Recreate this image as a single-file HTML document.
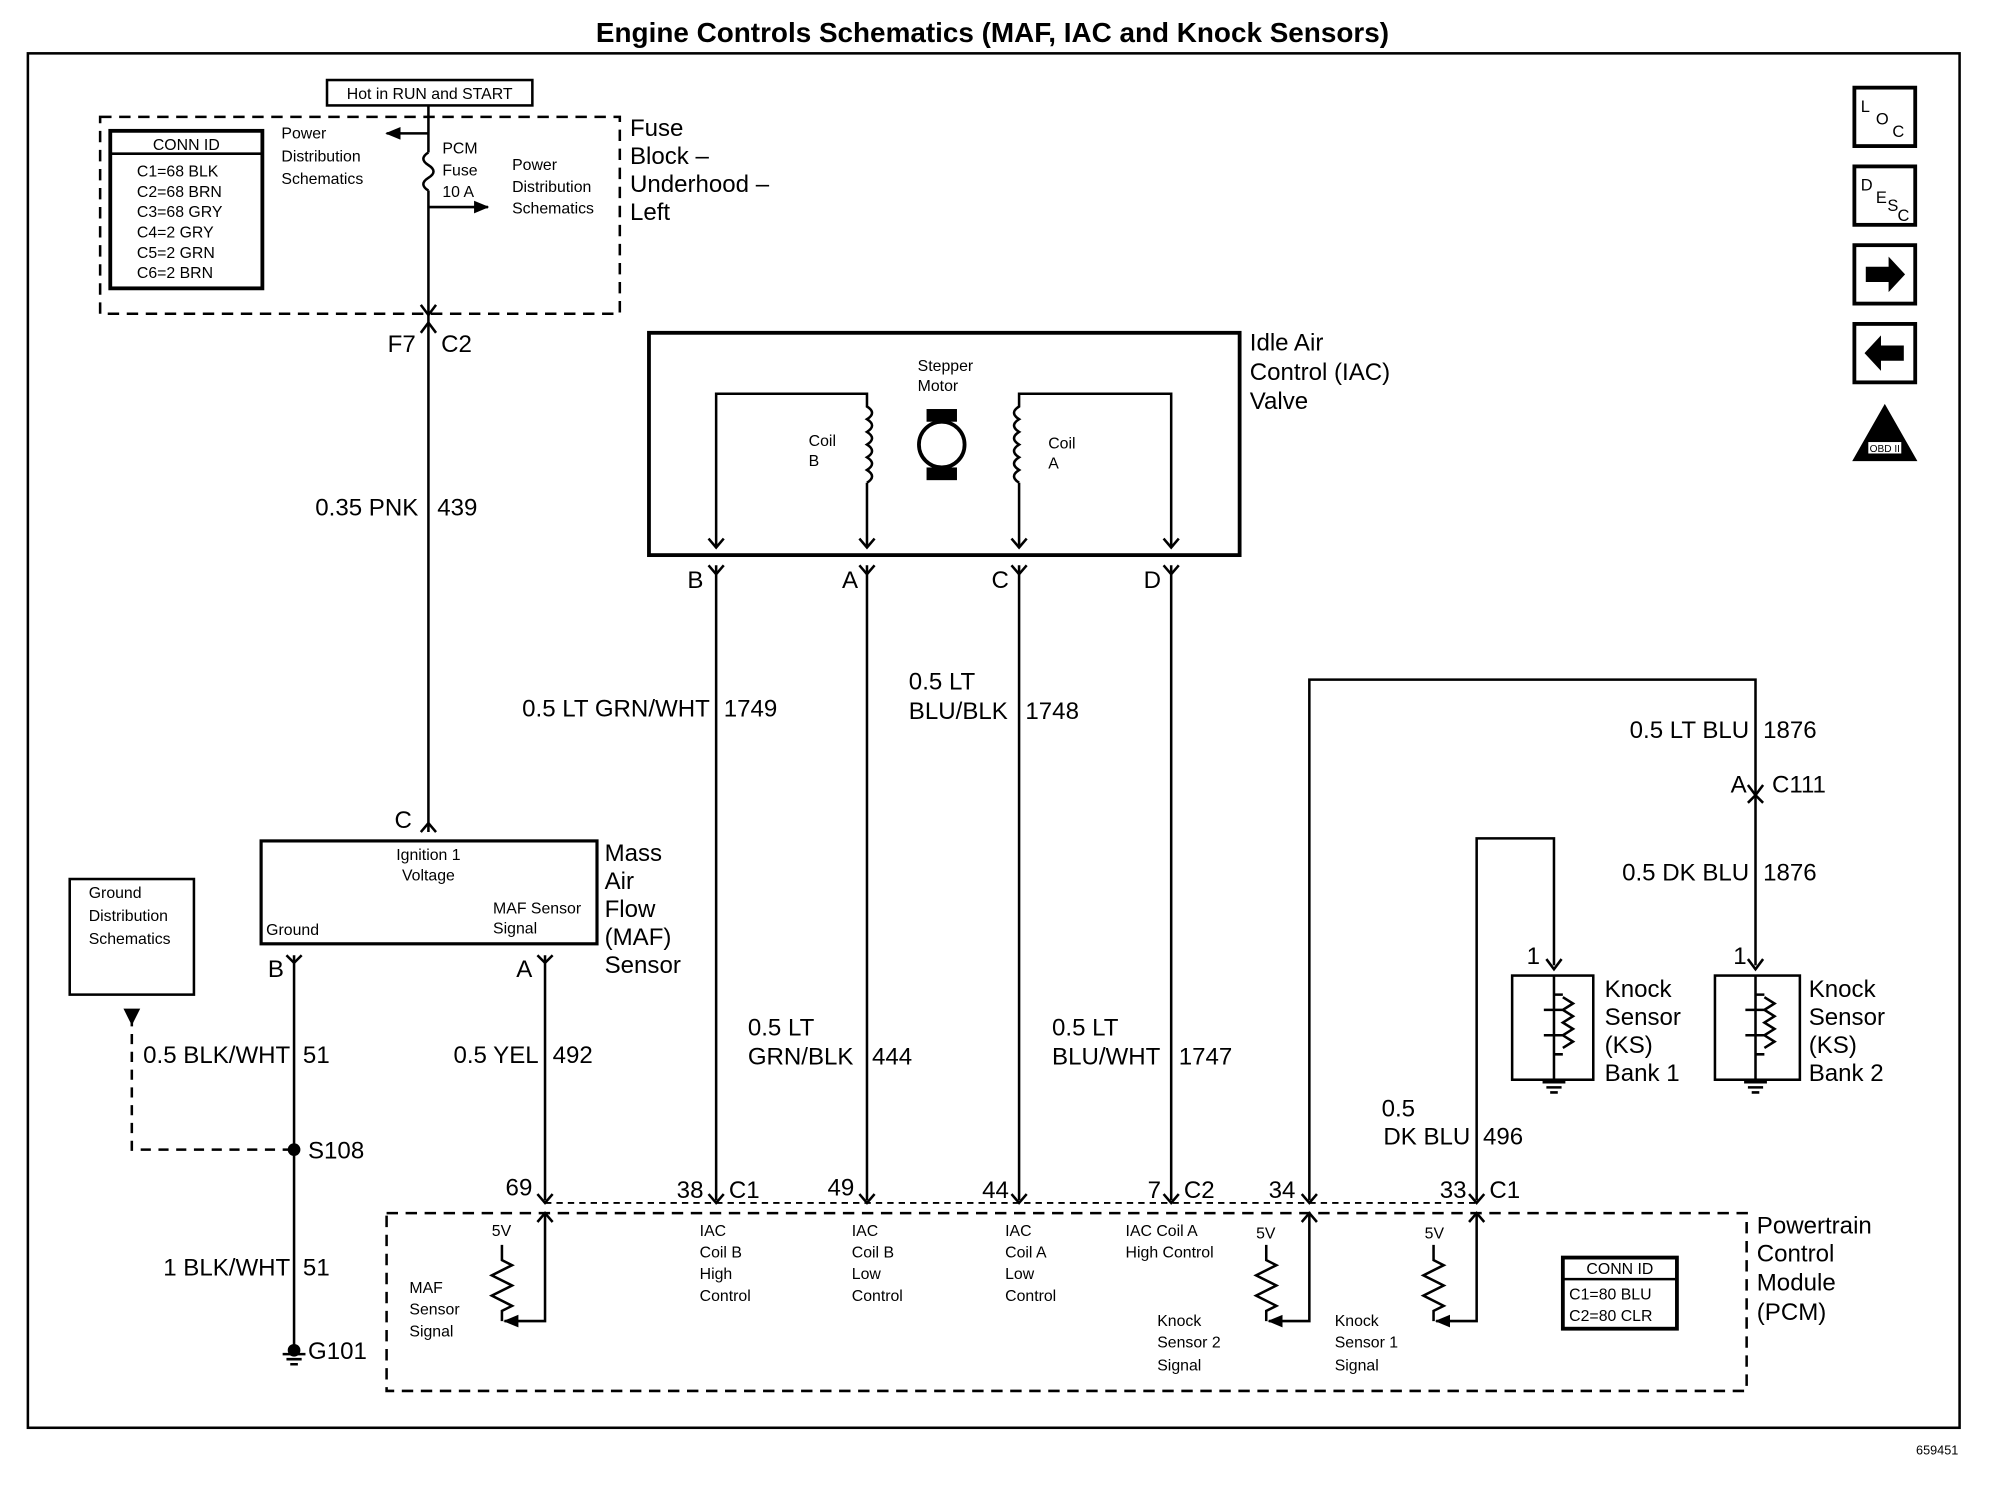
<!DOCTYPE html>
<html><head><meta charset="utf-8"><style>
html,body{margin:0;padding:0;background:#fff}
svg{display:block}
text{font-family:"Liberation Sans",sans-serif;fill:#000}
.b{font-size:19px}
.s{font-size:12.5px}
.m{font-size:14px}
</style></head><body>
<svg width="1990" height="1504" viewBox="0 0 1570 1184" preserveAspectRatio="none" xmlns="http://www.w3.org/2000/svg">
<defs>
<marker id="ar" markerUnits="userSpaceOnUse" markerWidth="12" markerHeight="10" refX="11" refY="5" orient="auto"><path d="M0,0 L12,5 L0,10 z" fill="#000"/></marker>
</defs>
<g stroke="#000" fill="none" stroke-width="2">
<rect x="22" y="42" width="1524" height="1082"/>
<!-- fuse block -->
<rect x="79" y="92" width="410" height="155" stroke-dasharray="9,6"/>
<rect x="258" y="63" width="162" height="20"/>
<rect x="87" y="103" width="120" height="124" stroke-width="3"/>
<line x1="87" y1="121" x2="207" y2="121"/>
<line x1="338" y1="83" x2="338" y2="120"/>
<path d="M338,120 q-8,5 0,10 q8,5 0,10 q-8,5 0,10"/>
<line x1="338" y1="150" x2="338" y2="655"/>
<line x1="338" y1="105" x2="305" y2="105" marker-end="url(#ar)"/>
<line x1="338" y1="163" x2="385" y2="163" marker-end="url(#ar)"/>
<path d="M332,240 L338,248 L344,240 M332,262 L338,254 L344,262"/>
<path d="M332,655 L338,648 L344,655"/>
<!-- MAF -->
<rect x="206" y="662" width="265" height="81" stroke-width="2.5"/>
<rect x="55" y="692" width="98" height="91"/>
<line x1="232" y1="752" x2="232" y2="1060"/>
<path d="M226,752 L232,758 L238,752"/>
<line x1="430" y1="752" x2="430" y2="945"/>
<path d="M424,752 L430,758 L436,752"/>
<path d="M104,800 L104,905 L232,905" stroke-dasharray="8,6"/>
<path d="M99,795 L104,805 L109,795 z" fill="#000"/>
<circle cx="232" cy="905" r="4" fill="#000"/>
<circle cx="232" cy="1063" r="4" fill="#000"/>
<!-- IAC -->
<rect x="512" y="262" width="466" height="175" stroke-width="3"/>
<path d="M684,430 L684,380 M684,380 q8,-5 0,-10 q8,-5 0,-10 q8,-5 0,-10 q8,-5 0,-10 q8,-5 0,-10 q8,-5 0,-10 L684,310 L565,310 L565,430"/>
<path d="M804,430 L804,380 M804,380 q-8,-5 0,-10 q-8,-5 0,-10 q-8,-5 0,-10 q-8,-5 0,-10 q-8,-5 0,-10 q-8,-5 0,-10 L804,310 L924,310 L924,430"/>
<path d="M559,424 L565,431 L571,424 M678,424 L684,431 L690,424 M798,424 L804,431 L810,424 M918,424 L924,431 L930,424"/>
<circle cx="743" cy="350" r="18" stroke-width="3"/>
<rect x="732" y="323" width="22" height="8" fill="#000"/>
<rect x="732" y="369" width="22" height="8" fill="#000"/>
<line x1="565" y1="445" x2="565" y2="945"/>
<line x1="684" y1="445" x2="684" y2="945"/>
<line x1="804" y1="445" x2="804" y2="945"/>
<line x1="924" y1="445" x2="924" y2="945"/>
<path d="M559,445 L565,452 L571,445 M678,445 L684,452 L690,445 M798,445 L804,452 L810,445 M918,445 L924,452 L930,445"/>
<!-- knock -->
<path d="M1033,945 L1033,535 L1385,535 L1385,760"/>
<path d="M1165,945 L1165,660 L1226,660 L1226,760"/>
<path d="M1379,618 L1385,626 L1391,618 M1379,632 L1385,626 L1391,632"/>
<path d="M1220,755 L1226,763 L1232,755 M1379,755 L1385,763 L1391,755"/>
<rect x="1193" y="768" width="64" height="82"/>
<rect x="1353" y="768" width="67" height="82"/>
<path d="M1226,768 L1226,852 M1218,795 L1234,795 M1218,815 L1234,815 M1233,785 l8,5 l-8,5 l8,5 l-8,5 l8,5 l-8,5 l8,5 l-8,5 M1233,783 L1226,783 M1233,830 L1226,830"/>
<path d="M1385,768 L1385,852 M1377,795 L1393,795 M1377,815 L1393,815 M1392,785 l8,5 l-8,5 l8,5 l-8,5 l8,5 l-8,5 l8,5 l-8,5 M1392,783 L1385,783 M1392,830 L1385,830"/>
<path d="M1217,852 L1235,852 M1220,856 L1232,856 M1223,860 L1229,860 M1376,852 L1394,852 M1379,856 L1391,856 M1382,860 L1388,860"/>
<path d="M223,1066 L241,1066 M226,1070 L238,1070 M229,1074 L235,1074"/>
<!-- PCM -->
<rect x="305" y="955" width="1073" height="140" stroke-dasharray="9,6"/>
<line x1="430" y1="947" x2="1165" y2="947" stroke-dasharray="5,4" stroke-width="1.5"/>
<path d="M424,940 L430,947 L436,940 M559,940 L565,947 L571,940 M678,940 L684,947 L690,940 M798,940 L804,947 L810,940 M918,940 L924,947 L930,940 M1027,940 L1033,947 L1039,940 M1159,940 L1165,947 L1171,940"/>
<path d="M430,955 L430,1040 L398,1040" marker-end="url(#ar)"/>
<path d="M424,962 L430,955 L436,962"/>
<path d="M396,980 L396,992 l8,4 l-16,8 l16,8 l-16,8 l16,8 l-8,4 L396,1040"/>
<path d="M1033,955 L1033,1040 L1001,1040" marker-end="url(#ar)"/>
<path d="M1027,962 L1033,955 L1039,962"/>
<path d="M999,980 L999,992 l8,4 l-16,8 l16,8 l-16,8 l16,8 l-8,4 L999,1040"/>
<path d="M1165,955 L1165,1040 L1133,1040" marker-end="url(#ar)"/>
<path d="M1159,962 L1165,955 L1171,962"/>
<path d="M1131,980 L1131,992 l8,4 l-16,8 l16,8 l-16,8 l16,8 l-8,4 L1131,1040"/>
<rect x="1233" y="990" width="90" height="56" stroke-width="3"/>
<line x1="1233" y1="1007" x2="1323" y2="1007"/>
<!-- icons -->
<rect x="1463" y="69" width="48" height="46" stroke-width="3"/>
<rect x="1463" y="131" width="48" height="46" stroke-width="3"/>
<rect x="1463" y="193" width="48" height="46" stroke-width="3"/>
<rect x="1463" y="255" width="48" height="46" stroke-width="3"/>
<path d="M1463,362 L1487,320 L1511,362 z" fill="#000"/>
</g>
<path d="M1472,210 L1490,210 L1490,202 L1503,216 L1490,230 L1490,222 L1472,222 z" fill="#000"/>
<path d="M1502,272 L1484,272 L1484,264 L1471,278 L1484,292 L1484,284 L1502,284 z" fill="#000"/>
<rect x="1474" y="348" width="26" height="9" fill="#fff"/>
<text x="1487" y="356" font-size="8" text-anchor="middle">OBD II</text>
<text x="1468" y="88" font-size="13">L</text><text x="1480" y="98" font-size="13">O</text><text x="1493" y="108" font-size="13">C</text>
<text x="1468" y="150" font-size="13">D</text><text x="1480" y="160" font-size="13">E</text><text x="1489" y="166" font-size="13">S</text><text x="1497" y="174" font-size="13">C</text>

<text x="783" y="33" text-anchor="middle" style="font-size:22px;font-weight:bold">Engine Controls Schematics (MAF, IAC and Knock Sensors)</text>
<text x="1545" y="1145" text-anchor="end" style="font-size:10px">659451</text>
<text x="339" y="78" text-anchor="middle" class="s">Hot in RUN and START</text>
<g class="s">
<text x="147" y="118" text-anchor="middle">CONN ID</text>
<text x="108" y="139">C1=68 BLK</text><text x="108" y="155">C2=68 BRN</text><text x="108" y="171">C3=68 GRY</text>
<text x="108" y="187">C4=2 GRY</text><text x="108" y="203">C5=2 GRN</text><text x="108" y="219">C6=2 BRN</text>
<text x="222" y="109">Power</text><text x="222" y="127">Distribution</text><text x="222" y="145">Schematics</text>
<text x="349" y="121">PCM</text><text x="349" y="138">Fuse</text><text x="349" y="155">10 A</text>
<text x="404" y="134">Power</text><text x="404" y="151">Distribution</text><text x="404" y="168">Schematics</text>
<text x="338" y="677" text-anchor="middle">Ignition 1</text><text x="338" y="693" text-anchor="middle">Voltage</text>
<text x="210" y="736">Ground</text><text x="389" y="719">MAF Sensor</text><text x="389" y="735">Signal</text>
<text x="70" y="707">Ground</text><text x="70" y="725">Distribution</text><text x="70" y="743">Schematics</text>
<text x="724" y="292">Stepper</text><text x="724" y="308">Motor</text>
<text x="638" y="351">Coil</text><text x="638" y="367">B</text><text x="827" y="353">Coil</text><text x="827" y="369">A</text>
<text x="388" y="973">5V</text><text x="323" y="1018">MAF</text><text x="323" y="1035">Sensor</text><text x="323" y="1052">Signal</text>
<text x="552" y="973">IAC</text><text x="552" y="990">Coil B</text><text x="552" y="1007">High</text><text x="552" y="1024">Control</text>
<text x="672" y="973">IAC</text><text x="672" y="990">Coil B</text><text x="672" y="1007">Low</text><text x="672" y="1024">Control</text>
<text x="793" y="973">IAC</text><text x="793" y="990">Coil A</text><text x="793" y="1007">Low</text><text x="793" y="1024">Control</text>
<text x="888" y="973">IAC Coil A</text><text x="888" y="990">High Control</text>
<text x="991" y="975">5V</text><text x="1124" y="975">5V</text>
<text x="913" y="1044">Knock</text><text x="913" y="1061">Sensor 2</text><text x="913" y="1079">Signal</text>
<text x="1053" y="1044">Knock</text><text x="1053" y="1061">Sensor 1</text><text x="1053" y="1079">Signal</text>
<text x="1278" y="1003" text-anchor="middle">CONN ID</text><text x="1238" y="1023">C1=80 BLU</text><text x="1238" y="1040">C2=80 CLR</text>
</g>
<g class="b">
<text x="497" y="107">Fuse</text><text x="497" y="129">Block –</text><text x="497" y="151">Underhood –</text><text x="497" y="173">Left</text>
<text x="328" y="277" text-anchor="end">F7</text><text x="348" y="277">C2</text>
<text x="330" y="406" text-anchor="end">0.35 PNK</text><text x="345" y="406">439</text>
<text x="325" y="652" text-anchor="end">C</text>
<text x="477" y="678">Mass</text><text x="477" y="700">Air</text><text x="477" y="722">Flow</text><text x="477" y="744">(MAF)</text><text x="477" y="766">Sensor</text>
<text x="224" y="769" text-anchor="end">B</text><text x="420" y="769" text-anchor="end">A</text>
<text x="229" y="837" text-anchor="end">0.5 BLK/WHT</text><text x="239" y="837">51</text>
<text x="425" y="837" text-anchor="end">0.5 YEL</text><text x="436" y="837">492</text>
<text x="243" y="912">S108</text>
<text x="229" y="1004" text-anchor="end">1 BLK/WHT</text><text x="239" y="1004">51</text>
<text x="243" y="1070">G101</text>
<text x="986" y="276">Idle Air</text><text x="986" y="299">Control (IAC)</text><text x="986" y="322">Valve</text>
<text x="555" y="463" text-anchor="end">B</text><text x="677" y="463" text-anchor="end">A</text><text x="796" y="463" text-anchor="end">C</text><text x="916" y="463" text-anchor="end">D</text>
<text x="560" y="564" text-anchor="end">0.5 LT GRN/WHT</text><text x="571" y="564">1749</text>
<text x="717" y="543">0.5 LT</text><text x="717" y="566">BLU/BLK</text><text x="809" y="566">1748</text>
<text x="590" y="815">0.5 LT</text><text x="590" y="838">GRN/BLK</text><text x="688" y="838">444</text>
<text x="830" y="815">0.5 LT</text><text x="830" y="838">BLU/WHT</text><text x="930" y="838">1747</text>
<text x="1380" y="581" text-anchor="end">0.5 LT BLU</text><text x="1391" y="581">1876</text>
<text x="1378" y="624" text-anchor="end">A</text><text x="1398" y="624">C111</text>
<text x="1380" y="693" text-anchor="end">0.5 DK BLU</text><text x="1391" y="693">1876</text>
<text x="1215" y="759" text-anchor="end">1</text><text x="1378" y="759" text-anchor="end">1</text>
<text x="1266" y="785">Knock</text><text x="1266" y="807">Sensor</text><text x="1266" y="829">(KS)</text><text x="1266" y="851">Bank 1</text>
<text x="1427" y="785">Knock</text><text x="1427" y="807">Sensor</text><text x="1427" y="829">(KS)</text><text x="1427" y="851">Bank 2</text>
<text x="1090" y="879">0.5</text><text x="1160" y="901" text-anchor="end">DK BLU</text><text x="1170" y="901">496</text>
<text x="420" y="941" text-anchor="end">69</text>
<text x="555" y="943" text-anchor="end">38</text><text x="575" y="943">C1</text>
<text x="674" y="941" text-anchor="end">49</text><text x="796" y="943" text-anchor="end">44</text>
<text x="916" y="943" text-anchor="end">7</text><text x="934" y="943">C2</text>
<text x="1022" y="943" text-anchor="end">34</text><text x="1157" y="943" text-anchor="end">33</text><text x="1175" y="943">C1</text>
<text x="1386" y="971">Powertrain</text><text x="1386" y="993">Control</text><text x="1386" y="1016">Module</text><text x="1386" y="1039">(PCM)</text>
</g>
</svg>
</body></html>
